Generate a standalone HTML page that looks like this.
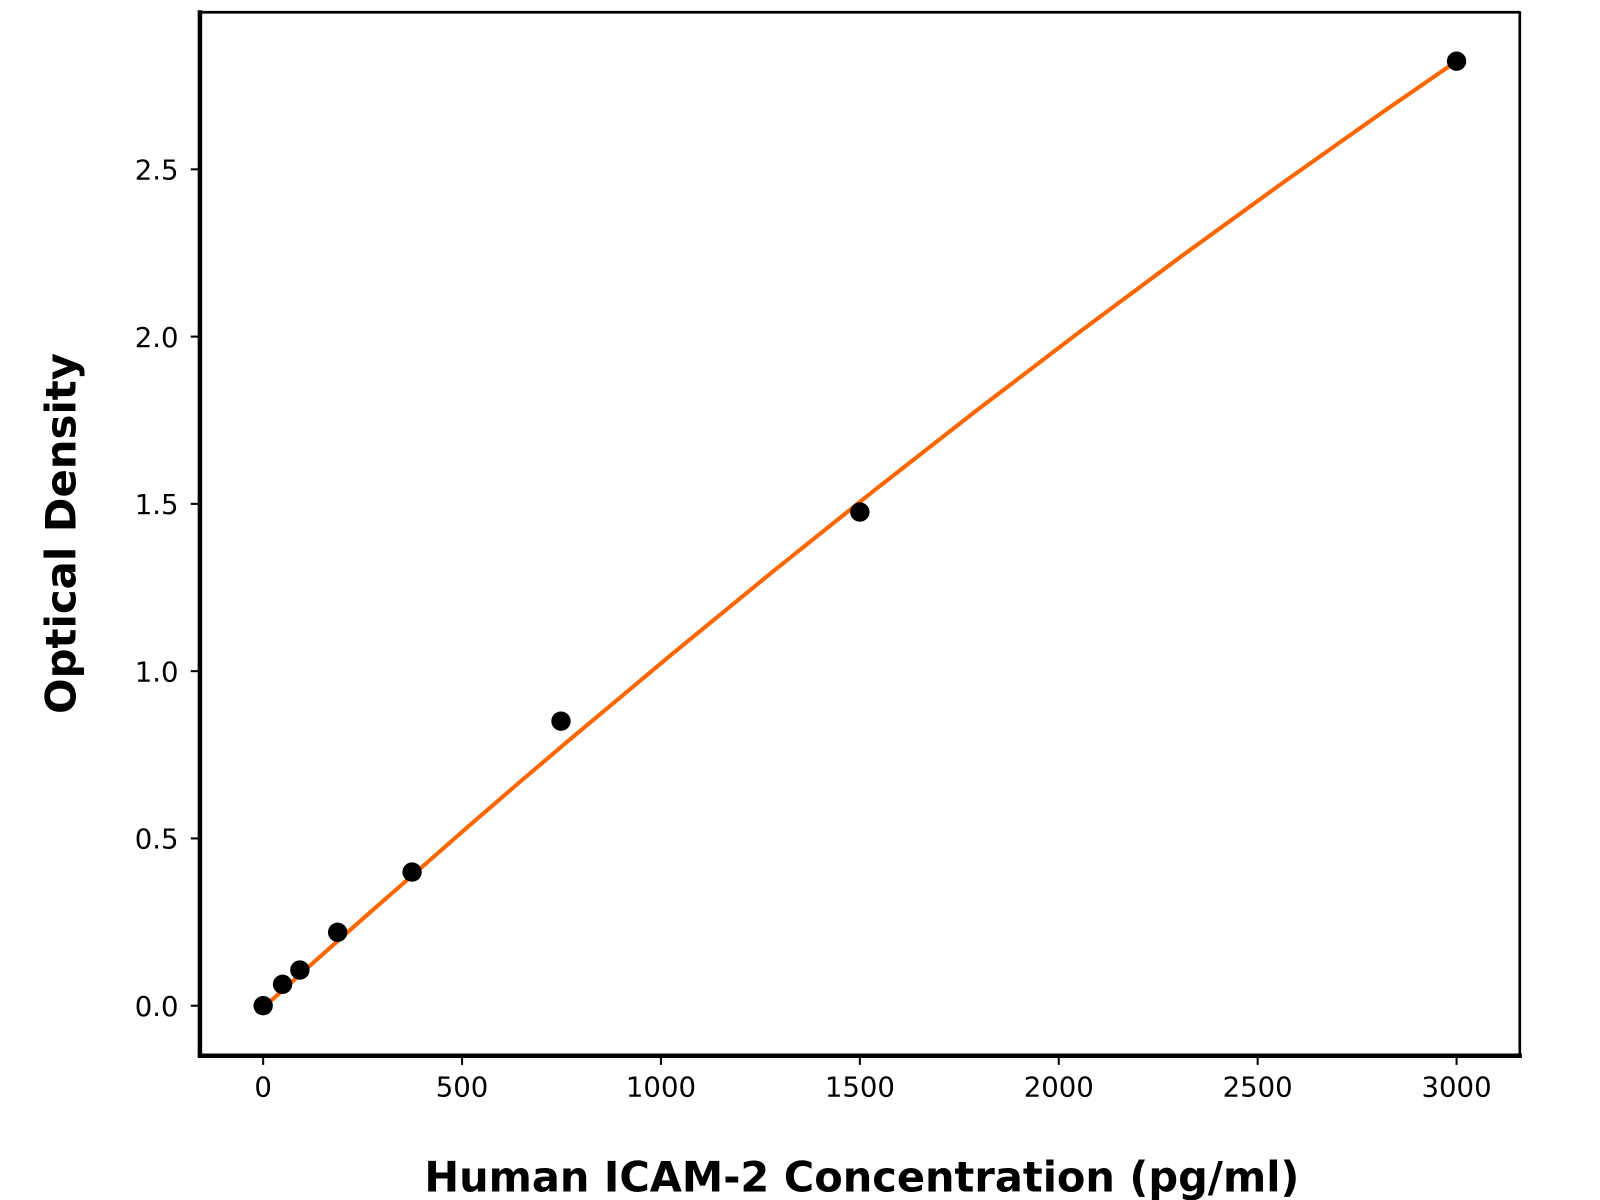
<!DOCTYPE html>
<html><head><meta charset="utf-8"><style>
html,body{margin:0;padding:0;background:#fff;}
svg{display:block;}
text{font-family:"DejaVu Sans","Liberation Sans",sans-serif;fill:#000;}
</style></head><body>
<svg width="1600" height="1200" viewBox="0 0 1600 1200" xmlns="http://www.w3.org/2000/svg">
<rect x="0" y="0" width="1600" height="1200" fill="#fff"/>
<g transform="scale(1.02)">
<g stroke="#000" fill="none">
<line x1="196" y1="12" x2="1490" y2="12" stroke-width="2.6"/>
<line x1="1490" y1="11" x2="1490" y2="1036" stroke-width="2.6"/>
<line x1="196" y1="10" x2="196" y2="1037" stroke-width="4.4"/>
<line x1="194" y1="1035" x2="1492" y2="1035" stroke-width="4.4"/>
</g>
<g stroke="#000" stroke-width="2">
<line x1="258" y1="1035" x2="258" y2="1044"/>
<line x1="453" y1="1035" x2="453" y2="1044"/>
<line x1="648" y1="1035" x2="648" y2="1044"/>
<line x1="843" y1="1035" x2="843" y2="1044"/>
<line x1="1038" y1="1035" x2="1038" y2="1044"/>
<line x1="1233" y1="1035" x2="1233" y2="1044"/>
<line x1="1428" y1="1035" x2="1428" y2="1044"/>
<line x1="187" y1="986" x2="196" y2="986"/>
<line x1="187" y1="822" x2="196" y2="822"/>
<line x1="187" y1="658" x2="196" y2="658"/>
<line x1="187" y1="494" x2="196" y2="494"/>
<line x1="187" y1="330" x2="196" y2="330"/>
<line x1="187" y1="166" x2="196" y2="166"/>
</g>
<g font-size="27" text-anchor="middle">
<text x="258" y="1075">0</text>
<text x="453" y="1075">500</text>
<text x="648" y="1075">1000</text>
<text x="843" y="1075">1500</text>
<text x="1038" y="1075">2000</text>
<text x="1233" y="1075">2500</text>
<text x="1428" y="1075">3000</text>
</g>
<g font-size="27" text-anchor="end">
<text x="175" y="996">0.0</text>
<text x="175" y="832">0.5</text>
<text x="175" y="668">1.0</text>
<text x="175" y="504">1.5</text>
<text x="175" y="340">2.0</text>
<text x="175" y="176">2.5</text>
</g>
<text x="845" y="1168" font-size="40.7" font-weight="bold" text-anchor="middle">Human ICAM-2 Concentration (pg/ml)</text>
<text transform="translate(74,523) rotate(-90)" font-size="41" font-weight="bold" text-anchor="middle">Optical Density</text>
<polyline fill="none" stroke="#ff6600" stroke-width="4" stroke-linejoin="round" points="258,988 308,943 358,898.7 408,855 458,811.2 508,768 558,725.6 658,642 758,560.1 858,480.1 958,402 1058,325.7 1158,251.4 1258,178.9 1358,108.2 1428,60"/>
<g fill="#000">
<circle cx="258" cy="986" r="9.5"/>
<circle cx="277" cy="965" r="9.5"/>
<circle cx="294" cy="951" r="9.5"/>
<circle cx="331" cy="914" r="9.5"/>
<circle cx="404" cy="855" r="9.5"/>
<circle cx="550" cy="707" r="9.5"/>
<circle cx="843" cy="502" r="9.5"/>
<circle cx="1428" cy="60" r="9.5"/>
</g>
</g>
</svg>
</body></html>
